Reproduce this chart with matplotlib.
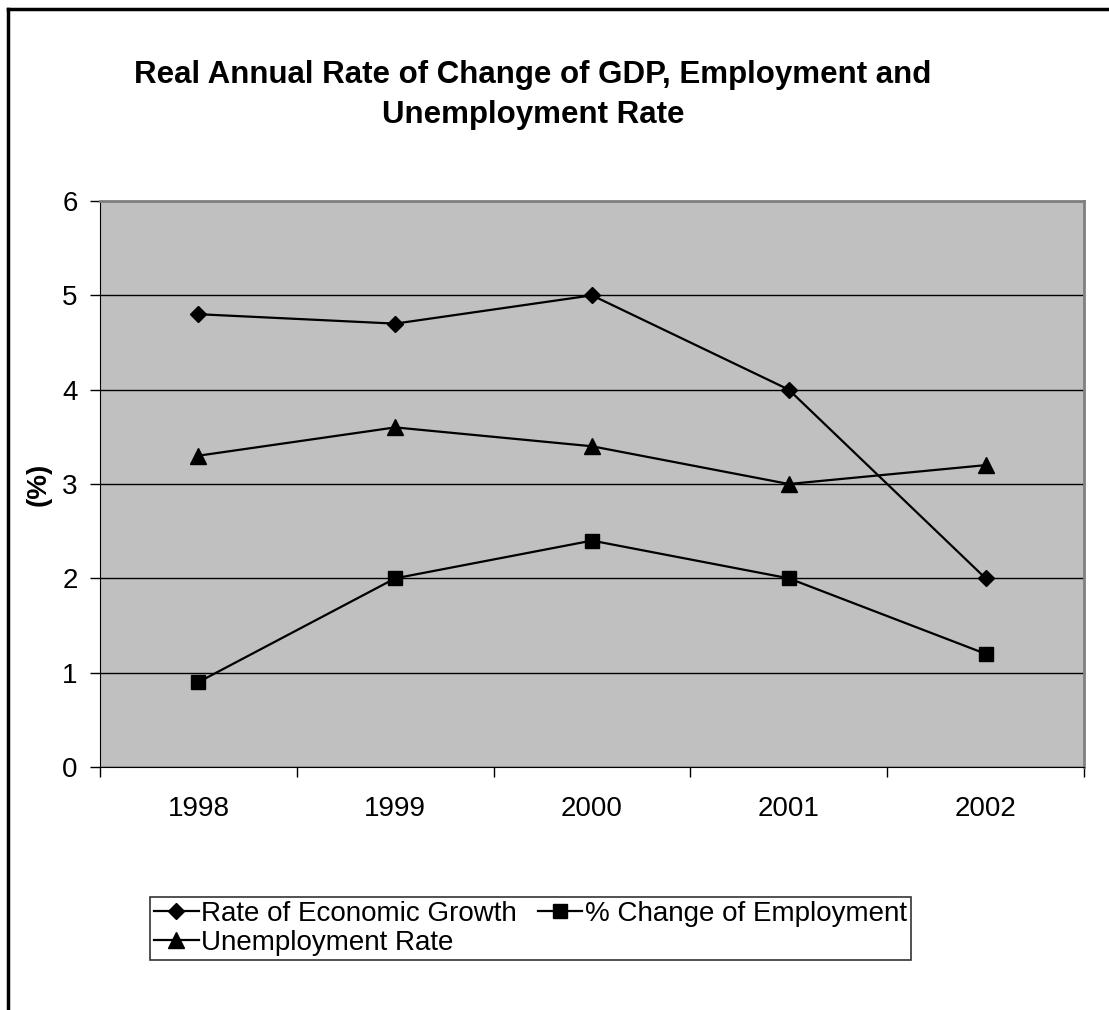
import matplotlib.pyplot as plt
from matplotlib.lines import Line2D

plt.rcParams['font.family'] = ['Liberation Sans', 'DejaVu Sans']

years = ["1998", "1999", "2000", "2001", "2002"]
growth = [4.8, 4.7, 5.0, 4.0, 2.0]
employment = [0.9, 2.0, 2.4, 2.0, 1.2]
unemployment = [3.3, 3.6, 3.4, 3.0, 3.2]

W, H = 1109, 1010
fig = plt.figure(figsize=(W / 100, H / 100), dpi=100)
ax = fig.add_axes([100 / W, 1 - 767 / H, 984 / W, 566 / H])
ax.set_facecolor("#C0C0C0")

x = list(range(len(years)))
l1, = ax.plot(x, growth, color="black", lw=1.6, marker="D", ms=8, label="Rate of Economic Growth")
l2, = ax.plot(x, employment, color="black", lw=1.6, marker="s", ms=10, label="% Change of Employment")
l3, = ax.plot(x, unemployment, color="black", lw=1.6, marker="^", ms=11, label="Unemployment Rate")

ax.set_xlim(-0.5, 4.5)
ax.set_ylim(0, 6)
ax.set_yticks(range(7))
ax.yaxis.grid(True, color="black", lw=1)
ax.set_axisbelow(True)

# category labels centered, tick marks between categories
ax.set_xticks(x)
ax.set_xticklabels(years, fontsize=20)
ax.tick_params(axis="x", length=0, pad=21)
ax.set_xticks([i - 0.5 for i in range(len(years) + 1)], minor=True)
ax.tick_params(axis="x", which="minor", length=7, direction="out", width=1)
ax.tick_params(axis="y", labelsize=20, length=7, width=1, pad=9)

ax.spines["left"].set_color("black")
ax.spines["bottom"].set_color("black")
ax.spines["top"].set_color("#808080")
ax.spines["right"].set_color("#808080")
ax.spines["top"].set_linewidth(2)
ax.spines["right"].set_linewidth(2)

ax.set_ylabel("(%)", fontsize=20, fontweight="bold", labelpad=8)

fig.text(533 / W, 1 - 95 / H, "Real Annual Rate of Change of GDP, Employment and\nUnemployment Rate",
         ha="center", va="center", fontsize=22.5, fontweight="bold", linespacing=1.4)

leg = fig.legend([l1, l3, l2], [l1.get_label(), l3.get_label(), l2.get_label()],
                 ncol=2, loc="upper left", bbox_to_anchor=(150 / W, 1 - 897 / H),
                 fontsize=20, frameon=True, fancybox=False, edgecolor="black",
                 handlelength=1.6, handletextpad=0.1, columnspacing=0.75,
                 borderpad=0.15, labelspacing=0.1, borderaxespad=0)
leg.get_frame().set_linewidth(1.2)

# outer chart border (top and left only)
fig.add_artist(Line2D([8 / W, 8 / W], [0, 1 - 9 / H], color="black", lw=2.5, transform=fig.transFigure))
fig.add_artist(Line2D([8 / W, 1108 / W], [1 - 9 / H, 1 - 9 / H], color="black", lw=2.5, transform=fig.transFigure))

fig.savefig("out.png", dpi=100)
